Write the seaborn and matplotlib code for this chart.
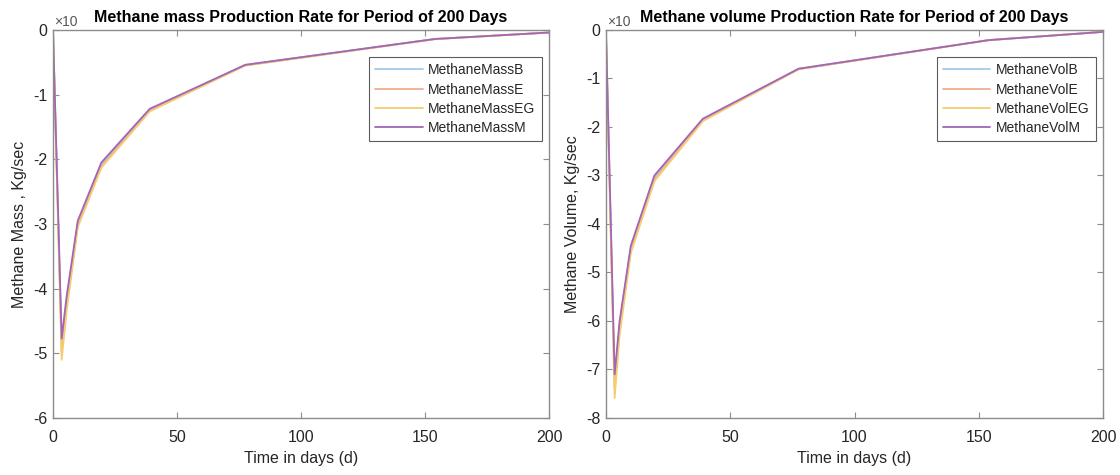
import numpy as np
import pandas as pd
import matplotlib
matplotlib.use("Agg")
import matplotlib.pyplot as plt
import seaborn as sns

# ---- data ----
days = [0, 3.5, 5.5, 10, 19.5, 39, 77.5, 154, 200]
mass_B = [0, -4.88, -4.20, -2.98, -2.08, -1.24, -0.54, -0.14, -0.04]
mass_E = [0, -4.98, -4.28, -3.02, -2.11, -1.25, -0.55, -0.14, -0.04]
mass_EG = [0, -5.10, -4.35, -3.05, -2.13, -1.26, -0.55, -0.145, -0.04]
mass_M = [0, -4.77, -4.12, -2.95, -2.05, -1.22, -0.54, -0.14, -0.04]

vol_B = [0, -7.25, -6.10, -4.50, -3.04, -1.85, -0.80, -0.21, -0.04]
vol_E = [0, -7.40, -6.20, -4.55, -3.08, -1.86, -0.81, -0.21, -0.04]
vol_EG = [0, -7.59, -6.30, -4.60, -3.12, -1.88, -0.81, -0.21, -0.04]
vol_M = [0, -7.10, -6.00, -4.45, -3.00, -1.83, -0.80, -0.21, -0.04]

mass_names = ["MethaneMassB", "MethaneMassE", "MethaneMassEG", "MethaneMassM"]
vol_names = ["MethaneVolB", "MethaneVolE", "MethaneVolEG", "MethaneVolM"]
colors = ["#a3cbe9", "#f2ad92", "#f6cd6e", "#a265b8"]

x_ticks = [0, 50, 100, 150, 200]
mass_yticks = [-6, -5, -4, -3, -2, -1, 0]
vol_yticks = [-8, -7, -6, -5, -4, -3, -2, -1, 0]


def long_df(names, series):
    rows = []
    for n, s in zip(names, series):
        for d, v in zip(days, s):
            rows.append({"day": d, "value": v, "series": n})
    return pd.DataFrame(rows)


df_mass = long_df(mass_names, [mass_B, mass_E, mass_EG, mass_M])
df_vol = long_df(vol_names, [vol_B, vol_E, vol_EG, vol_M])

sns.set_theme(style="white")
plt.rcParams["font.family"] = ["Liberation Sans", "DejaVu Sans"]

fig = plt.figure(figsize=(11.2, 4.75), dpi=100)
ax1 = fig.add_axes([0.0473, 0.12, 0.443, 0.817])
ax2 = fig.add_axes([0.541, 0.12, 0.444, 0.817])

txtc = "#262626"
spc = "#8c8c8c"

for ax, df, names, yt, title, ylabel in [
    (ax1, df_mass, mass_names, mass_yticks,
     "Methane mass Production Rate for Period of 200 Days", "Methane Mass , Kg/sec"),
    (ax2, df_vol, vol_names, vol_yticks,
     "Methane volume Production Rate for Period of 200 Days", "Methane Volume, Kg/sec"),
]:
    sns.lineplot(data=df, x="day", y="value", hue="series", hue_order=names,
                 palette=colors, linewidth=1.3, ax=ax, sort=False)
    ax.set_xlim(0, 200)
    ax.set_ylim(yt[0], yt[-1])
    ax.set_xticks(x_ticks)
    ax.set_yticks(yt)
    ax.set_xticklabels([str(v) for v in x_ticks])
    ax.set_yticklabels([str(v) for v in yt])
    ax.tick_params(direction="in", length=4, width=0.8, color=spc,
                   labelsize=11.5, labelcolor=txtc, top=True, right=True,
                   bottom=True, left=True, pad=4)
    ax.tick_params(axis="x", pad=9)
    for s in ax.spines.values():
        s.set_color(spc)
        s.set_linewidth(1.0)
    ax.set_xlabel("Time in days (d)", fontsize=11.5, color=txtc, labelpad=4)
    ax.set_ylabel(ylabel, fontsize=11.5, color=txtc, labelpad=4)
    ax.text(0.003, 1.003, "×10", transform=ax.transAxes, fontsize=10,
            color="#555555", ha="left", va="bottom")
    ax.set_title(title, fontsize=11.5, fontweight="bold", color="black", pad=6)
    leg = ax.legend(loc="upper right", bbox_to_anchor=(0.985, 0.93),
                    frameon=True, fancybox=False, fontsize=10,
                    handlelength=3.4, handletextpad=0.4, borderpad=0.45,
                    labelspacing=0.38, borderaxespad=0.0)
    leg.get_frame().set_edgecolor("#333333")
    leg.get_frame().set_linewidth(0.8)
    for t in leg.get_texts():
        t.set_color(txtc)

fig.savefig("out.png", dpi=100, facecolor="white")
